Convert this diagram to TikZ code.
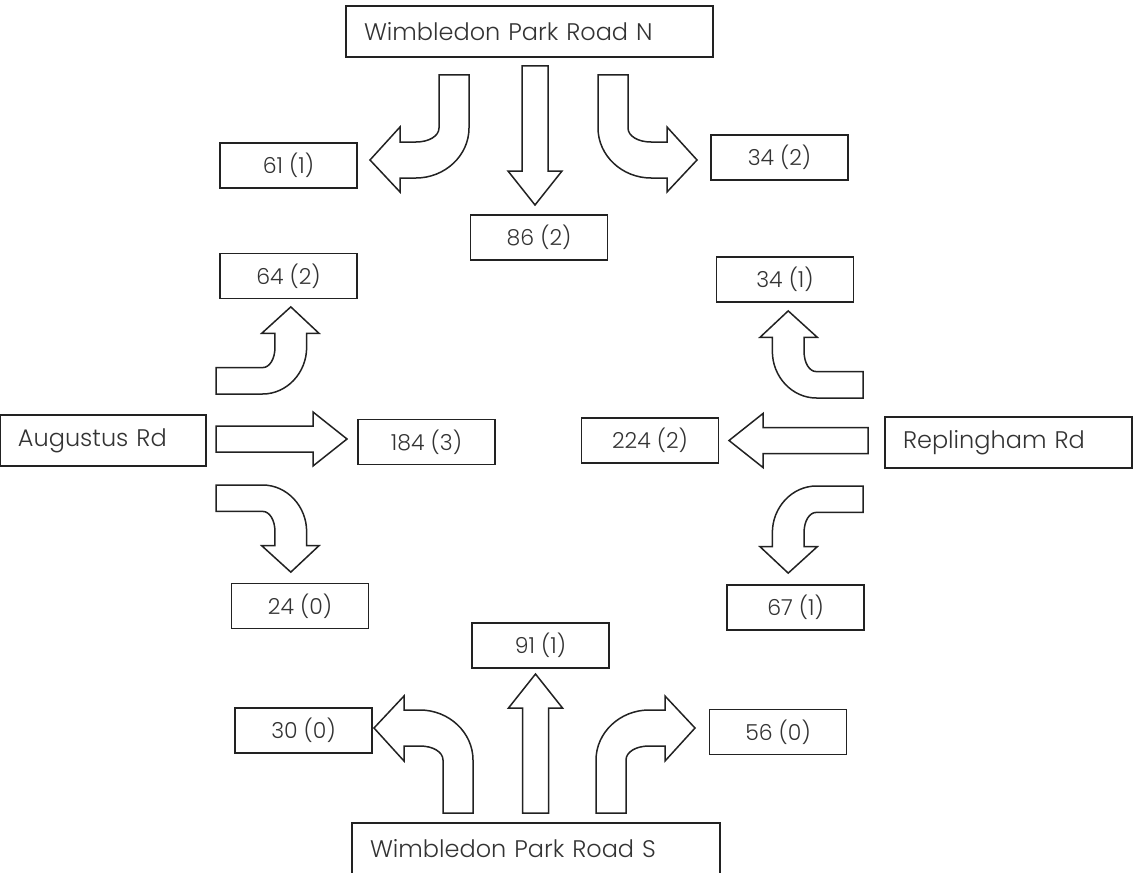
\documentclass[tikz,border=0pt]{standalone}
\usepackage{fontspec}
\setmainfont{Poppins}[UprightFont=* Light]
\usepackage{tikz}
\definecolor{inkc}{HTML}{222222}
\definecolor{txtc}{HTML}{333333}
\tikzset{
  blk/.style={draw=inkc,line width=0.75pt,fill=white,line join=miter},
  box/.style={draw=inkc,line width=0.75pt,minimum width=68.5pt,minimum height=22.5pt,inner sep=0pt,font=\fontsize{11}{13}\selectfont,text=txtc},
  road/.style={box,minimum height=25.5pt,font=\fontsize{12}{14}\selectfont,align=left,inner xsep=9pt}
}
\newcommand{\turnarr}[1]{%
  \draw[blk,#1] (-30,0)--(0,0)--(0,-53) .. controls (0,-80.5) and (-24,-103) .. (-53,-103)
    --(-69,-103)--(-69,-117)--(-99,-85)--(-69,-52)--(-69,-67)--(-53,-67)
    .. controls (-40,-67) and (-30,-61) .. (-30,-53)--cycle;}
\newcommand{\strarr}[4]{%
  \draw[blk,shift={(#1,#2)},rotate=#3] (-13,0)--(-13,-#4)--(-27,-#4)--(0,-#4-34)--(27,-#4)--(13,-#4)--(13,0)--cycle;}

\begin{document}
\begin{tikzpicture}[x=0.5pt,y=-0.5pt]
\useasboundingbox (0,0) rectangle (1134,872);
\node[road,text width=165.5pt] (rdN) at (529.5,31.5) {Wimbledon Park Road N};
\node[road,text width=166pt] (rdS) at (536,848.5) {Wimbledon Park Road S};
\node[road,text width=85pt] (rdW) at (103,440.5) {Augustus Rd};
\node[road,text width=105.5pt] (rdE) at (1008.5,442.5) {Replingham Rd};
\turnarr{shift={(469,75)},yscale=-1}
\strarr{535}{66}{180}{105}
\turnarr{shift={(598,75)},scale=-1}
\turnarr{shift={(216,394)},rotate=-90,scale=0.88}
\strarr{216}{439}{-90}{97}
\turnarr{shift={(216,485)},rotate=-90,xscale=-1,scale=0.88}
\turnarr{shift={(863,398)},rotate=90,xscale=-1,scale=0.88}
\strarr{868}{440.5}{90}{105}
\turnarr{shift={(863,486)},rotate=90,scale=0.88}
\turnarr{shift={(473,813)}}
\strarr{535.5}{813}{0}{105}
\turnarr{shift={(596,813)},xscale=-1}
\node[box] (nl) at (288.5,165.5) {61 (1)};
\node[box] (nt) at (539,237.5) {86 (2)};
\node[box] (nr) at (779.5,157.5) {34 (2)};
\node[box] (wl) at (288.5,276) {64 (2)};
\node[box] (wt) at (426.5,442) {184 (3)};
\node[box] (wr) at (300,606) {24 (0)};
\node[box] (er) at (785,279.5) {34 (1)};
\node[box] (et) at (650,440.5) {224 (2)};
\node[box] (el) at (795.5,607.5) {67 (1)};
\node[box] (sl) at (303.5,730.5) {30 (0)};
\node[box] (st) at (540.5,645.5) {91 (1)};
\node[box] (sr) at (778,732) {56 (0)};
\end{tikzpicture}
\end{document}
